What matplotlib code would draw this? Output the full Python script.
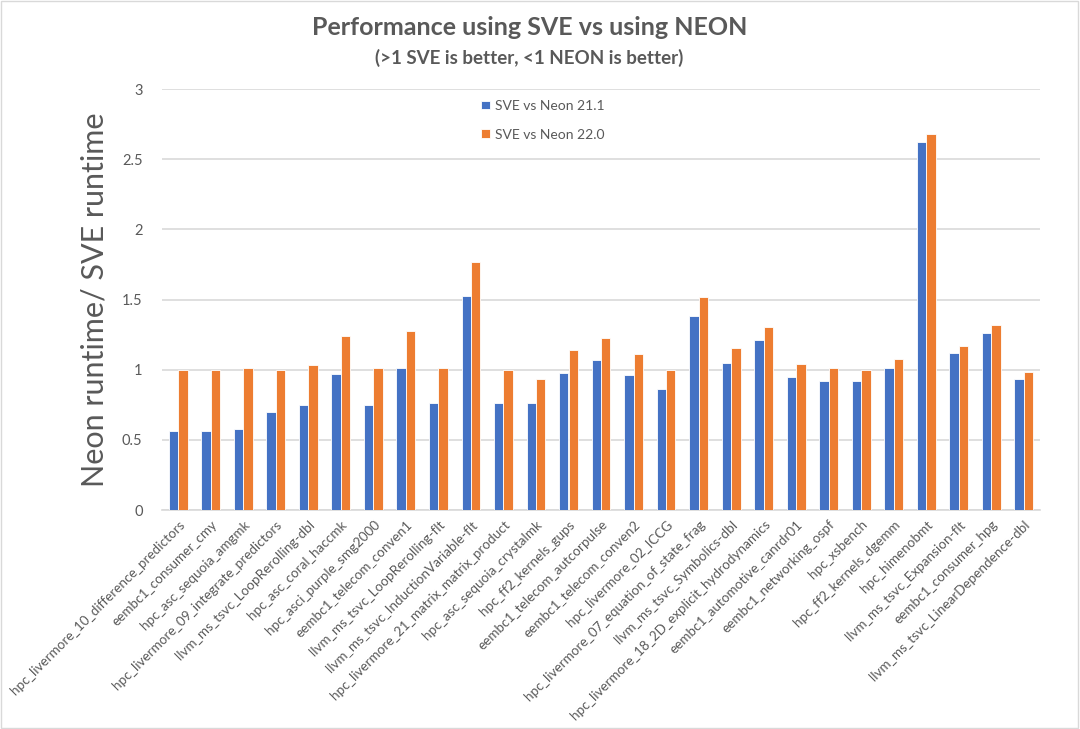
import matplotlib.pyplot as plt
from matplotlib.patches import Rectangle
import numpy as np

plt.rcParams["font.family"] = ["Lato", "DejaVu Sans"]

benchmarks = [
    "hpc_livermore_10_difference_predictors",
    "eembc1_consumer_cmy",
    "hpc_asc_sequoia_amgmk",
    "hpc_livermore_09_integrate_predictors",
    "llvm_ms_tsvc_LoopRerolling-dbl",
    "hpc_asc_coral_haccmk",
    "hpc_asci_purple_smg2000",
    "eembc1_telecom_conven1",
    "llvm_ms_tsvc_LoopRerolling-flt",
    "llvm_ms_tsvc_InductionVariable-flt",
    "hpc_livermore_21_matrix_matrix_product",
    "hpc_asc_sequoia_crystalmk",
    "hpc_ff2_kernels_gups",
    "eembc1_telecom_autcorpulse",
    "eembc1_telecom_conven2",
    "hpc_livermore_02_ICCG",
    "hpc_livermore_07_equation_of_state_frag",
    "llvm_ms_tsvc_Symbolics-dbl",
    "hpc_livermore_18_2D_explicit_hydrodynamics",
    "eembc1_automotive_canrdr01",
    "eembc1_networking_ospf",
    "hpc_xsbench",
    "hpc_ff2_kernels_dgemm",
    "hpc_himenobmt",
    "llvm_ms_tsvc_Expansion-flt",
    "eembc1_consumer_hpg",
    "llvm_ms_tsvc_LinearDependence-dbl",
]
sve_vs_neon_21 = [0.56, 0.565, 0.58, 0.70, 0.745, 0.97, 0.745, 1.015, 0.765,
                  1.525, 0.76, 0.76, 0.975, 1.07, 0.965, 0.865, 1.385, 1.045,
                  1.21, 0.945, 0.92, 0.92, 1.01, 2.62, 1.12, 1.26, 0.93]
sve_vs_neon_22 = [1.00, 1.00, 1.01, 0.995, 1.03, 1.24, 1.01, 1.275, 1.015,
                  1.765, 0.995, 0.93, 1.14, 1.225, 1.115, 1.00, 1.52, 1.155,
                  1.305, 1.04, 1.01, 1.00, 1.075, 2.68, 1.17, 1.32, 0.98]
series_names = ["SVE vs Neon 21.1", "SVE vs Neon 22.0"]

blue = "#4472c4"
orange = "#ed7d31"
text_grey = "#595959"
grid_grey = "#d9d9d9"

fig = plt.figure(figsize=(10.8, 7.29), dpi=100)
ax = fig.add_axes([0.15, 0.3004, 0.813, 0.5775])

x = np.arange(len(benchmarks))
w = 0.29
ax.bar(x - w / 2, sve_vs_neon_21, w, color=blue, edgecolor="white",
       linewidth=0.6, label=series_names[0], zorder=3)
ax.bar(x + w / 2, sve_vs_neon_22, w, color=orange, edgecolor="white",
       linewidth=0.6, label=series_names[1], zorder=3)

ax.set_xlim(-0.5, len(benchmarks) - 0.5)
ax.set_ylim(0, 3)
ax.set_yticks([0, 0.5, 1, 1.5, 2, 2.5, 3])
ax.set_yticklabels(["0", "0.5", "1", "1.5", "2", "2.5", "3"])
ax.yaxis.grid(True, color=grid_grey, linewidth=1.2, zorder=0)
ax.set_axisbelow(True)
for s in ["top", "right", "left"]:
    ax.spines[s].set_visible(False)
ax.spines["bottom"].set_color(grid_grey)
ax.spines["bottom"].set_linewidth(1.2)
ax.tick_params(axis="both", length=0, colors=text_grey, labelsize=10.5)
ax.tick_params(axis="y", pad=14)
ax.tick_params(axis="x", pad=6)

ax.set_xticks(x)
ax.set_xticklabels(benchmarks, rotation=45, ha="right",
                   rotation_mode="anchor", fontsize=9.7, color=text_grey)

ax.set_ylabel("Neon runtime/ SVE runtime", fontsize=22, color=text_grey,
              labelpad=10)

fig.text(0.49, 0.962, "Performance using SVE vs using NEON", ha="center",
         va="center", fontsize=18, fontweight="bold", color=text_grey)
fig.text(0.49, 0.92, "(>1 SVE is better, <1 NEON is better)", ha="center",
         va="center", fontsize=13.5, fontweight="bold", color=text_grey)

ax.legend(loc="upper left", bbox_to_anchor=(0.434, 0.88),
          bbox_transform=fig.transFigure, frameon=False, fontsize=10,
          handlelength=0.6, handleheight=0.6, handletextpad=0.4,
          labelspacing=1.2, labelcolor=text_grey)

fig.patches.append(Rectangle((0.001, 0.001), 0.997, 0.997,
                             transform=fig.transFigure, fill=False,
                             edgecolor=grid_grey, linewidth=1))

plt.savefig("out.png", dpi=100)
